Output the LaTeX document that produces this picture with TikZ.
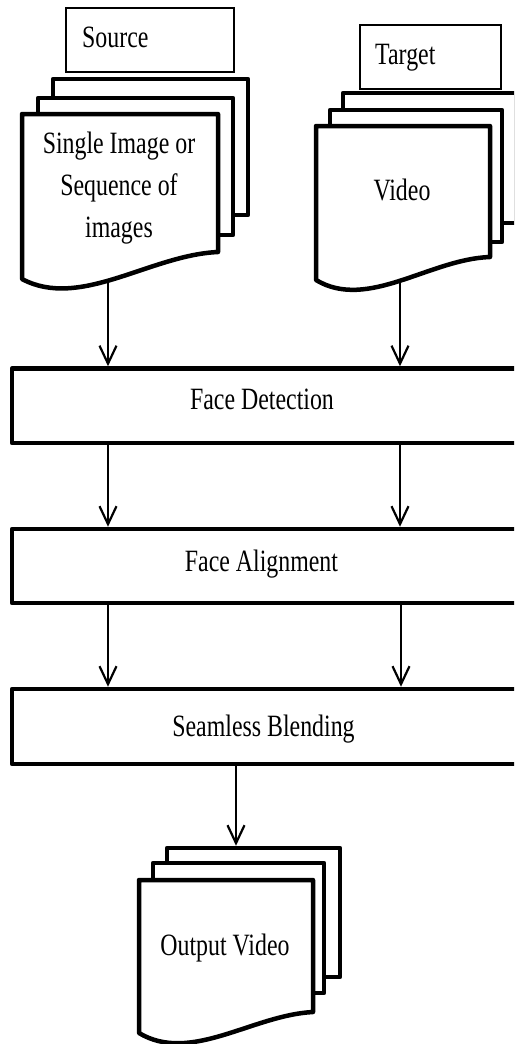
\documentclass[tikz,border=0pt]{standalone}
\usepackage{fontspec}
\setmainfont{Liberation Serif}[FakeStretch=0.77]
\usetikzlibrary{arrows.meta}
\pgfdeclarelayer{back}
\pgfsetlayers{back,main}
\tikzset{
  sheet/.style={draw, line width=4.5pt, fill=white, inner sep=0pt, line join=round},
  stage/.style={draw, line width=4.5pt, fill=white, inner sep=0pt, line join=round,
                minimum width=506pt},
  tag/.style={draw, line width=1.3pt, fill=white, inner sep=0pt},
  txt/.style={font=\fontsize{31}{42}\selectfont, inner sep=0pt, anchor=base},
  flow/.style={line width=2.2pt, -{Straight Barb[length=18pt,width=17pt,line width=2.2pt]}},
}
\begin{document}
\begin{tikzpicture}[x=1pt,y=-1pt]
\useasboundingbox (0,0) rectangle (514,1044);
\clip (0,0) rectangle (514,1044);

% column positions of the connectors
\coordinate (colL) at (108,0);
\coordinate (colR) at (400,0);
\coordinate (colR2) at (401,0);
\coordinate (colM) at (236,0);

% ---------- source documents ----------
\node[tag, minimum width=168pt, minimum height=64pt] (srctag) at (150,40) {};
\node[txt, anchor=base west] (srclabel) at (82,47) {Source};
\node[sheet, minimum width=195pt, minimum height=136pt] (srcback) at (150.5,147) {};
\node[sheet, minimum width=195pt, minimum height=137pt] (srcmid) at (135.5,166.5) {};
\draw[sheet] (22,279) -- (22,114) -- (218,114) -- (218,252)
  .. controls (150,255) and (80,310) .. (22,279) -- cycle;
% the base anchor of a multi-line node sits on its last line
\node[txt, align=center] (srctext) at (119,237) {Single Image or\\Sequence of\\images};
\coordinate (srcfoot) at (108,262);

% ---------- target documents ----------
\node[tag, minimum width=141pt, minimum height=64pt] (tgttag) at (430.5,57) {};
\node[txt, anchor=base west] (tgtlabel) at (375,64) {Target};
\node[sheet, minimum width=173pt, minimum height=130pt] (tgtback) at (429.5,158) {};
\node[sheet, minimum width=172pt, minimum height=132pt] (tgtmid) at (416,176) {};
\draw[sheet] (316,280) -- (316,126) -- (490,126) -- (490,257)
  .. controls (429.6,259) and (367.5,311) .. (316,280) -- cycle;
\node[txt] (tgttext) at (402,200) {Video};
\coordinate (tgtfoot) at (400,262);

% ---------- processing stages ----------
\node[stage, minimum height=74.5pt] (det) at (265,405.75) {};
\node[txt] (dettext) at (262,409) {Face Detection};
\node[stage, minimum height=74pt] (ali) at (265,566) {};
\node[txt] (alitext) at (261.5,571) {Face Alignment};
\node[stage, minimum height=75pt] (ble) at (265,726.5) {};
\node[txt] (bletext) at (263.5,736) {Seamless Blending};

% ---------- output documents ----------
\node[sheet, minimum width=173pt, minimum height=129pt] (outback) at (253.5,912.5) {};
\node[sheet, minimum width=171pt, minimum height=130pt] (outmid) at (238.5,928) {};
\draw[sheet] (139,1033) -- (139,880) -- (313,880) -- (313,1012)
  .. controls (252.6,1015) and (190.5,1064) .. (139,1033) -- cycle;
\node[txt] (outtext) at (225,955) {Output Video};

% ---------- connectors ----------
\begin{pgfonlayer}{back}
\draw[flow] (srcfoot) -- (srcfoot |- det.north);
\draw[flow] (tgtfoot) -- (tgtfoot |- det.north);
\end{pgfonlayer}
\draw[flow] (det.south -| colL) -- (ali.north -| colL);
\draw[flow] (det.south -| colR) -- (ali.north -| colR);
\draw[flow] (ali.south -| colL) -- (ble.north -| colL);
\draw[flow] (ali.south -| colR2) -- (ble.north -| colR2);
\draw[flow] (ble.south -| colM) -- (outback.north -| colM);
\end{tikzpicture}
\end{document}
